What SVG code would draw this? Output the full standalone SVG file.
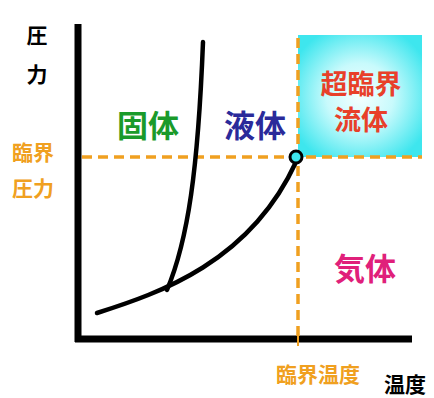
<svg xmlns="http://www.w3.org/2000/svg" width="434" height="398" viewBox="0 0 434 398">
<defs>
<radialGradient id="cy" cx="50%" cy="50%" r="60%">
<stop offset="0" stop-color="#f4ffff"/>
<stop offset="0.45" stop-color="#c8fafc"/>
<stop offset="1" stop-color="#3ee6ee"/>
</radialGradient>
<style>
text{font-family:"Noto Sans CJK JP","Noto Sans CJK SC",sans-serif;font-weight:bold;text-anchor:middle;dominant-baseline:central}
.dash{stroke:#f0a020;stroke-width:3.5;stroke-dasharray:10 6;fill:none}
.curve{stroke:#000;stroke-width:4.5;fill:none;stroke-linecap:round}
.ax{stroke:#000;fill:none}
.or{fill:#f0a020;font-size:21px}
</style>
</defs>
<rect width="434" height="398" fill="#fff"/>
<g id="supercritical">
<rect x="298" y="35" width="124" height="122" fill="url(#cy)"/>
<text x="361" y="82" font-size="27" fill="#e8402a">超臨界</text>
<text x="361" y="118" font-size="27" fill="#e8402a">流体</text>
</g>
<g id="axes">
<line class="ax" x1="78" y1="24" x2="78" y2="342" stroke-width="7"/>
<line class="ax" x1="75" y1="339" x2="412" y2="339" stroke-width="7"/>
</g>
<g id="connectors">
<line class="dash" x1="82" y1="157" x2="422" y2="157"/>
<line class="dash" x1="298" y1="38" x2="298" y2="336"/>
<line x1="298" y1="332" x2="298" y2="346" stroke="#f0a020" stroke-width="2"/>
<path class="curve" d="M97,313 C160,293 250,262 296,162"/>
<path class="curve" d="M167,290 C188,240 198,170 203,42"/>
</g>
<g id="critical-point">
<circle cx="296" cy="157" r="6" fill="#3ee6ee" stroke="#000" stroke-width="3"/>
</g>
<g id="labels">
<text x="37" y="34" font-size="21" fill="#000">圧</text>
<text x="37" y="73" font-size="21" fill="#000">力</text>
<text x="148" y="123" font-size="31" fill="#1a9a2a">固体</text>
<text x="255" y="123" font-size="31" fill="#2a2a9a">液体</text>
<text x="365" y="266" font-size="31" fill="#e0207a">気体</text>
<text class="or" x="33" y="151">臨界</text>
<text class="or" x="33" y="187">圧力</text>
<text class="or" x="318" y="373">臨界温度</text>
<text x="405" y="383" font-size="21" fill="#000">温度</text>
</g>
</svg>
